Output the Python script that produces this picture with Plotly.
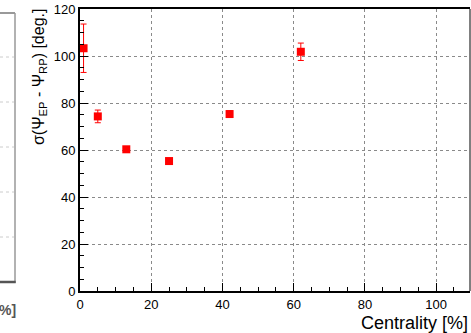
import plotly.graph_objects as go

centrality = [1, 5, 13, 25, 42, 62]
sigma_deg = [103.3, 74.3, 60.3, 55.3, 75.3, 101.8]
sigma_err = [10.3, 2.7, 1.0, 0.8, 1.3, 3.7]

x_ticks = [0, 20, 40, 60, 80, 100]
y_ticks = [0, 20, 40, 60, 80, 100, 120]

W, H = 471, 333
L, R, T, B = 80, 1, 9, 42
pw, ph = W - L - R, H - T - B

def px(x):
    return (x - L) / pw

def py(y):
    return (H - B - y) / ph

fig = go.Figure()
fig.add_trace(go.Scatter(
    x=centrality, y=sigma_deg, mode="markers",
    marker=dict(symbol="square", size=8, color="#ff0000", line=dict(width=0)),
    error_y=dict(type="data", array=sigma_err, visible=True, color="#ff0000",
                 thickness=1, width=3),
    showlegend=False,
))

font = "Liberation Sans, Arial, Helvetica, sans-serif"

fig.update_layout(
    width=W, height=H,
    margin=dict(l=L, r=R, t=T, b=B),
    plot_bgcolor="white", paper_bgcolor="white",
    font=dict(family=font, size=13, color="black"),
    xaxis=dict(range=[0, 109.5], tickvals=x_ticks, ticks="inside", ticklen=8,
               tickwidth=1, tickcolor="black", showline=True, linewidth=2,
               linecolor="black", mirror=True, showgrid=True, gridcolor="#8a8a8a",
               griddash="dot", gridwidth=1, zeroline=False,
               minor=dict(dtick=5, ticks="inside", ticklen=4, tickcolor="black",
                          showgrid=False),
               tickfont=dict(size=13, family=font)),
    yaxis=dict(range=[0, 120], tickvals=y_ticks, ticks="inside", ticklen=8,
               tickwidth=1, tickcolor="black", showline=True, linewidth=2,
               linecolor="black", showgrid=True, gridcolor="#8a8a8a",
               griddash="dot", gridwidth=1, zeroline=False,
               minor=dict(dtick=5, ticks="inside", ticklen=4, tickcolor="black",
                          showgrid=False),
               tickfont=dict(size=13, family=font)),
)

shapes = []
# right frame (thin)
shapes.append(dict(type="line", xref="paper", yref="paper", x0=1, x1=1, y0=0, y1=1,
                   line=dict(color="black", width=1)))
# neighbouring cropped panel on the left
shapes.append(dict(type="line", xref="paper", yref="paper", x0=px(-2), x1=px(15),
                   y0=py(13), y1=py(13), line=dict(color="#999", width=2)))
shapes.append(dict(type="line", xref="paper", yref="paper", x0=px(15), x1=px(15),
                   y0=py(13), y1=py(283), line=dict(color="#999", width=1.5)))
shapes.append(dict(type="line", xref="paper", yref="paper", x0=px(-2), x1=px(15.7),
                   y0=py(282), y1=py(282), line=dict(color="#555", width=2.5)))
for gy in [57, 102, 147, 192, 237]:
    shapes.append(dict(type="line", xref="paper", yref="paper", x0=px(0), x1=px(14),
                       y0=py(gy), y1=py(gy), line=dict(color="#ccc", width=1, dash="dot")))
fig.update_layout(shapes=shapes)

fig.add_annotation(xref="paper", yref="paper", x=px(39), y=py(7),
                   xanchor="center", yanchor="top", textangle=-90, showarrow=False,
                   text="σ(Ψ<sub>EP</sub> - Ψ<sub>RP</sub>) [deg.]",
                   font=dict(size=16, family=font, color="black"))
fig.add_annotation(xref="paper", yref="paper", x=1, y=py(311),
                   xanchor="right", yanchor="top", showarrow=False,
                   text="Centrality [%]",
                   font=dict(size=18, family=font, color="black"))
fig.add_annotation(xref="paper", yref="paper", x=px(-3), y=py(300),
                   xanchor="left", yanchor="top", showarrow=False,
                   text="<b>%]</b>",
                   font=dict(size=14, family=font, color="#555"))

fig.write_html("out.html",
               config={"displayModeBar": False},
               post_script="document.body.style.margin='0px';document.body.style.overflow='hidden';")
